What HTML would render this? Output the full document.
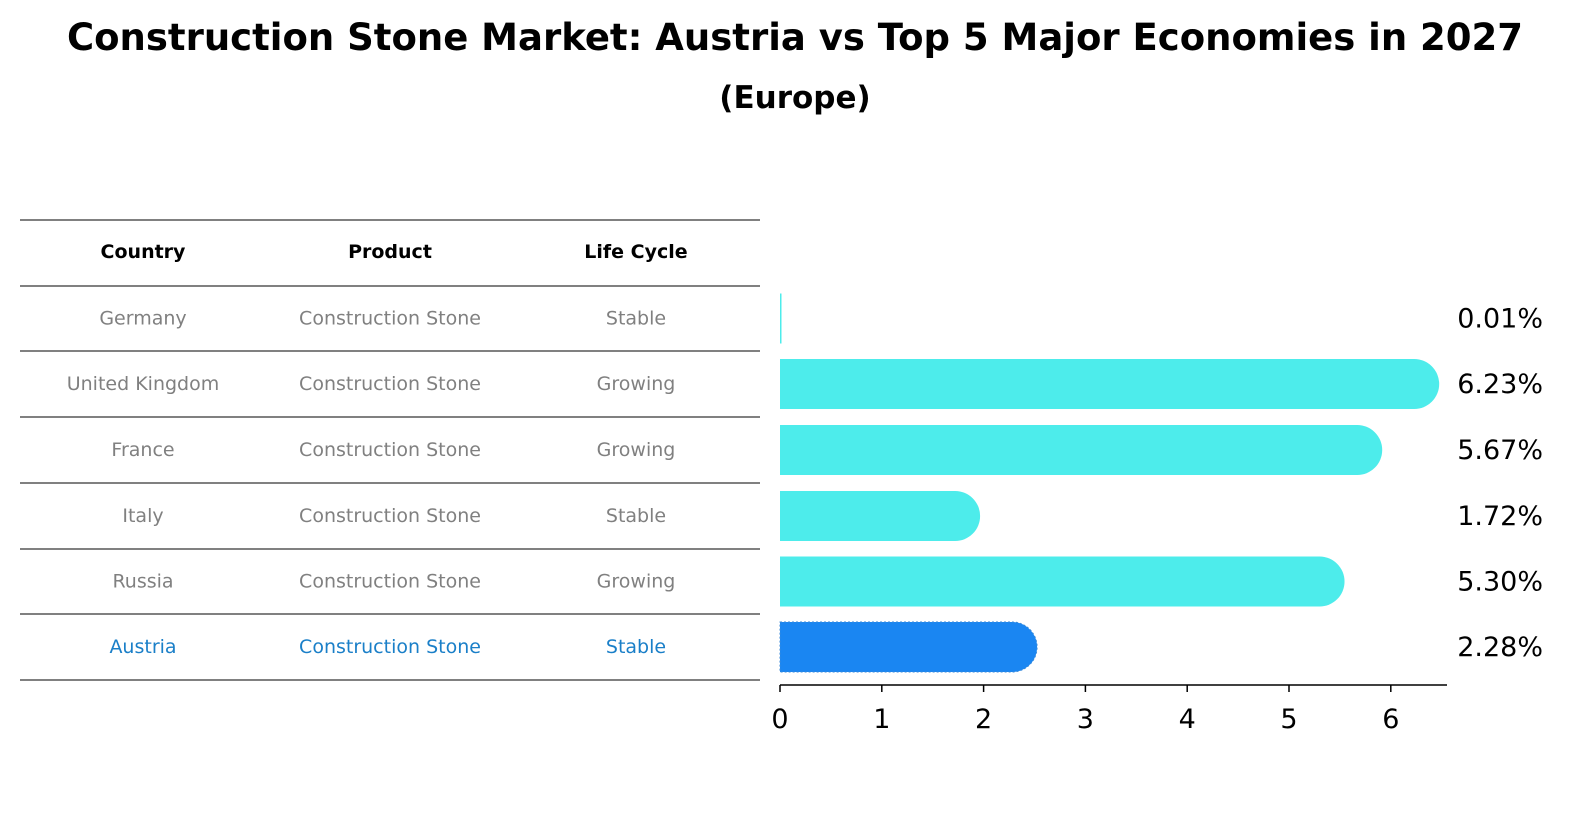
<!DOCTYPE html>
<html><head><meta charset="utf-8"><style>
body{margin:0;background:#fff;width:1591px;height:823px;overflow:hidden;font-family:"Liberation Sans","DejaVu Sans",sans-serif}
svg text{font-family:"DejaVu Sans","Liberation Sans",sans-serif}
</style></head><body>
<svg width="1591" height="823">
<text x="795" y="50" text-anchor="middle" font-size="37" font-weight="bold">Construction Stone Market: Austria vs Top 5 Major Economies in 2027</text>
<text x="795" y="108" text-anchor="middle" font-size="31" font-weight="bold">(Europe)</text>
<g id="table"></g>
<g id="bars"></g>
</svg>
<script>
const countries=["Germany","United Kingdom","France","Italy","Russia","Austria"];
const products=["Construction Stone","Construction Stone","Construction Stone","Construction Stone","Construction Stone","Construction Stone"];
const lifecycles=["Stable","Growing","Growing","Stable","Growing","Stable"];
const values=[0.01,6.23,5.67,1.72,5.30,2.28];
const labels=["0.01%","6.23%","5.67%","1.72%","5.30%","2.28%"];
const ticks=[0,1,2,3,4,5,6];
const NS="http://www.w3.org/2000/svg";
function mk(tag,attrs,parent,txt){const e=document.createElementNS(NS,tag);for(const k in attrs)e.setAttribute(k,attrs[k]);if(txt!==undefined)e.textContent=txt;parent.appendChild(e);return e;}
const tbl=document.getElementById('table');
const lineYs=[220,286,351,417,483,549,614,680];
lineYs.forEach(y=>{const l=mk('line',{x1:20,x2:760,y1:y,y2:y,stroke:'#000','stroke-width':1},tbl);

});
const colX=[143,390,636];
["Country","Product","Life Cycle"].forEach((h,i)=>{const t=mk('text',{x:colX[i],y:258,'text-anchor':'middle','font-size':19,'font-weight':'bold'},tbl,h);

});
countries.forEach((c,r)=>{const y=(lineYs[r+1]+lineYs[r+2])/2+6;const col=r===5?'#1a7fc8':'#808080';
[c,products[r],lifecycles[r]].forEach((v,i)=>{const t=mk('text',{x:colX[i],y:y,'text-anchor':'middle','font-size':19,fill:col},tbl,v);

});});
const g=document.getElementById('bars');
const x0=780,pxu=101.8;const xs=v=>x0+v*pxu;
const h=50,rad=25;
values.forEach((v,r)=>{const cy=(lineYs[r+1]+lineYs[r+2])/2;const isA=r===5;const col=isA?'#1a86f2':'#4deceb';
const w=xs(v)-x0;
const p=mk('path',{d:`M${x0},${cy-h/2} H${x0+w} A${rad},${rad} 0 0 1 ${x0+w},${cy+h/2} H${x0} Z`,fill:col},g);
if(v<0.05){p.setAttribute('d',`M${x0},${cy-h/2} h1.5 v${h} h-1.5 Z`);}
if(isA){p.setAttribute('stroke','#3a8ad8');p.setAttribute('stroke-dasharray','2,2');}


const t=mk('text',{x:1543,y:cy+9,'text-anchor':'end','font-size':27},g,labels[r]);

});
const ax=mk('line',{x1:x0,x2:1447,y1:685,y2:685,stroke:'#000','stroke-width':1.5},g);


ticks.forEach(tk=>{const tl=mk('line',{x1:xs(tk),x2:xs(tk),y1:685,y2:692,stroke:'#000','stroke-width':1.5},g);


const t=mk('text',{x:xs(tk),y:728,'text-anchor':'middle','font-size':27},g,String(tk));

});
</script>
</body></html>
